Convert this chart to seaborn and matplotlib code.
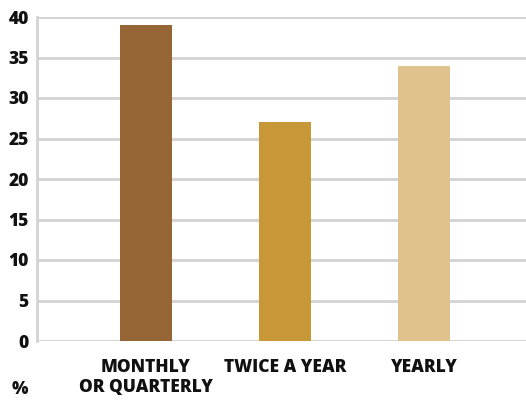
import matplotlib
matplotlib.use("Agg")
import matplotlib.pyplot as plt
import seaborn as sns
import pandas as pd

categories = ["MONTHLY\nOR QUARTERLY", "TWICE A YEAR", "YEARLY"]
values = [39, 27, 34]
colors = ["#956535", "#c79738", "#dfc28c"]
yticks = [0, 5, 10, 15, 20, 25, 30, 35, 40]

sns.set_theme(style="white")
plt.rcParams['font.family'] = ['Open Sans', 'DejaVu Sans']

df = pd.DataFrame({"cat": categories, "val": values})

fig = plt.figure(figsize=(5.26, 4.03), dpi=100)
ax = fig.add_axes([37/526, 1 - 341/403, 1 - 37/526, (341 - 17)/403])

sns.barplot(data=df, x="cat", y="val", hue="cat", palette=colors, legend=False,
            width=0.375, ax=ax, saturation=1, zorder=3, linewidth=0, edgecolor='none')

ax.set_ylim(0, 40)
ax.set_xlim(-0.78, 2.73)
ax.set_yticks(yticks)
ax.set_yticklabels([str(t) for t in yticks], fontsize=12.5, fontweight='heavy', color='#111111')
ax.set_xticks(range(len(categories)))
ax.set_xticklabels(categories, fontsize=12.5, fontweight='heavy', color='#111111', linespacing=1.2)
ax.tick_params(axis='both', length=0)
ax.tick_params(axis='y', pad=6)
ax.tick_params(axis='x', pad=13)
ax.set_xlabel("")
ax.set_ylabel("")

ax.yaxis.grid(True, color='#d3d3d3', linewidth=2, zorder=0)
ax.set_axisbelow(True)
for s in ['top', 'right', 'bottom']:
    ax.spines[s].set_visible(False)
ax.spines['left'].set_color('#d3d3d3')
ax.spines['left'].set_linewidth(2)

fig.text(20/526, 1 - 389/403, "%", fontsize=12.5, fontweight='heavy', color='#111111',
         ha='center', va='center')

fig.savefig("out.png", dpi=100)
